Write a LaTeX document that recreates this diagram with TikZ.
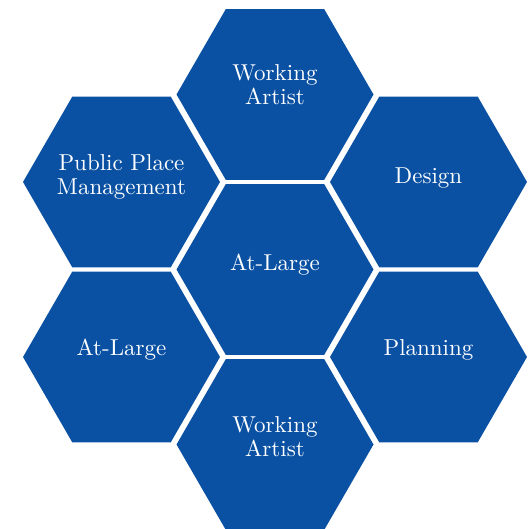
\documentclass[tikz,border=0pt]{standalone}
\usepackage{fontspec}
\setmainfont{lmroman10-regular.otf}
\usetikzlibrary{shapes.geometric}
\definecolor{hexblue}{RGB}{10,81,163}
\tikzset{
  hexcell/.style={regular polygon, regular polygon sides=6, minimum size=197pt, inner sep=0pt, fill=hexblue},
  hextext/.style={text=white, align=center, font=\fontsize{23}{24}\selectfont}
}
\begin{document}
\begin{tikzpicture}[x=1pt,y=1pt]
  \useasboundingbox (0,0) rectangle (527,529);
  % honeycomb cells
  \node[hexcell] (wtop)   at (275,434.5) {};
  \node[hexcell] (ppm)    at (121.5,347) {};
  \node[hexcell] (design) at (428.5,347) {};
  \node[hexcell] (mid)    at (275,259.5) {};
  \node[hexcell] (atl)    at (121.5,172) {};
  \node[hexcell] (plan)   at (428.5,172) {};
  \node[hexcell] (wbot)   at (275,84.5) {};
  % cell texts
  \node[hextext] (wtoptxt)   at ([yshift=9.5]wtop.center)   {Working\\Artist};
  \node[hextext] (ppmtxt)    at ([yshift=5]ppm.center)      {Public Place\\Management};
  \node[hextext] (designtxt) at ([yshift=3.5]design.center) {Design};
  \node[hextext] (midtxt)    at ([yshift=4.5]mid.center)    {At-Large};
  \node[hextext] (atltxt)    at ([yshift=7]atl.center)      {At-Large};
  \node[hextext] (plantxt)   at ([yshift=7.5]plan.center)   {Planning};
  \node[hextext] (wbottxt)   at ([yshift=8]wbot.center)     {Working\\Artist};
\end{tikzpicture}
\end{document}
